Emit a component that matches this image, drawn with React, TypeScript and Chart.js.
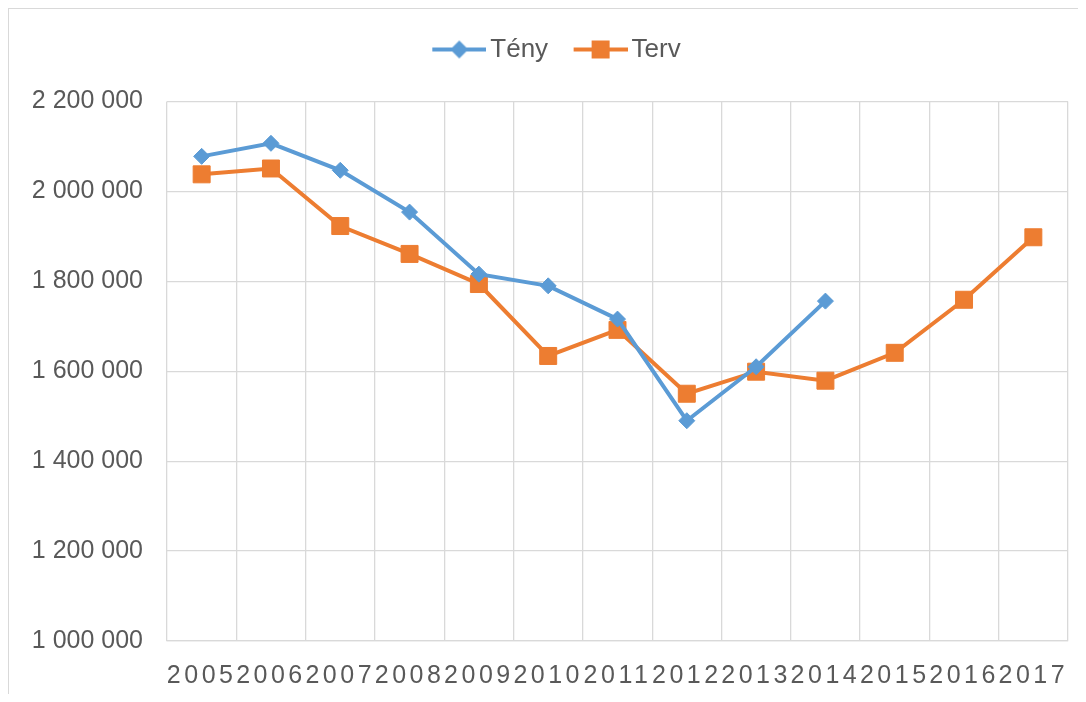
import React, { useEffect, useRef } from "react";
import { Chart, registerables } from "chart.js";

Chart.register(...registerables);

const categories = ["2005", "2006", "2007", "2008", "2009", "2010", "2011", "2012", "2013", "2014", "2015", "2016", "2017"];
const tenyValues: (number | null)[] = [2078000, 2107000, 2047000, 1954000, 1816000, 1790000, 1716000, 1490000, 1610000, 1756000, null, null, null];
const tervValues: number[] = [2038000, 2051000, 1923000, 1861000, 1794000, 1634000, 1692000, 1550000, 1599000, 1579000, 1641000, 1759000, 1898000];
const seriesNames = ["Tény", "Terv"];
const yMin = 1000000;
const yMax = 2200000;
const yStep = 200000;

const BLUE = "#5B9BD5";
const ORANGE = "#ED7D31";
const GRID = "#D9D9D9";
const TEXT = "#595959";
const FONT = "'Liberation Sans', Arial, sans-serif";

function fmt(v: number): string {
  return String(Math.round(v)).replace(/\B(?=(\d{3})+(?!\d))/g, " ");
}

// legend symbol: line with marker, drawn in the right 54px of a 72px image
function legendImage(color: string, kind: "diamond" | "square"): HTMLCanvasElement {
  const c = document.createElement("canvas");
  c.width = 72;
  c.height = 22;
  const g = c.getContext("2d")!;
  const x0 = 18;
  const cx = x0 + 27;
  g.strokeStyle = color;
  g.lineWidth = 4;
  g.beginPath();
  g.moveTo(x0, 11);
  g.lineTo(x0 + 54, 11);
  g.stroke();
  g.fillStyle = color;
  g.beginPath();
  if (kind === "diamond") {
    g.moveTo(cx - 9, 11);
    g.lineTo(cx, 2);
    g.lineTo(cx + 9, 11);
    g.lineTo(cx, 20);
    g.closePath();
  } else {
    g.rect(cx - 9, 2, 18, 18);
  }
  g.fill();
  return c;
}

export default function App() {
  const ref = useRef<HTMLCanvasElement | null>(null);

  useEffect(() => {
    if (!ref.current) return;
    const imgs = [legendImage(BLUE, "diamond"), legendImage(ORANGE, "square")];

    const legendSpacer = {
      id: "legendSpacer",
      beforeLayout(chart: any) {
        const lg = chart.legend;
        if (lg && !lg.__patched) {
          const orig = lg.fit;
          lg.fit = function () {
            orig.call(this);
            this.height += 29;
          };
          lg.__patched = true;
        }
      },
      afterLayout(chart: any) {
        const lg = chart.legend;
        if (lg) {
          lg.left += 14;
          lg.right += 14;
        }
      },
    };

    const xLetterSpacing = {
      id: "xLetterSpacing",
      afterLayout(chart: any) {
        const s = chart.scales.x;
        if (s && !s.__patched) {
          const orig = s.drawLabels;
          s.drawLabels = function (area: any) {
            const ctx = this.ctx;
            ctx.save();
            (ctx as any).letterSpacing = "3.5px";
            orig.call(this, area);
            ctx.restore();
          };
          s.__patched = true;
        }
      },
    };

    const chart = new Chart(ref.current, {
      type: "line",
      data: {
        labels: categories,
        datasets: [
          {
            label: seriesNames[0],
            data: tenyValues,
            borderColor: BLUE,
            backgroundColor: BLUE,
            borderWidth: 4,
            pointStyle: "rectRot",
            pointRadius: 8,
            pointBorderWidth: 1,
            pointBackgroundColor: BLUE,
            pointBorderColor: BLUE,
            spanGaps: false,
            tension: 0,
          },
          {
            label: seriesNames[1],
            data: tervValues,
            borderColor: ORANGE,
            backgroundColor: ORANGE,
            borderWidth: 4,
            pointStyle: "rect",
            pointRadius: 12,
            pointBorderWidth: 1,
            pointBackgroundColor: ORANGE,
            pointBorderColor: ORANGE,
            tension: 0,
          },
        ],
      },
      options: {
        animation: false,
        responsive: true,
        maintainAspectRatio: false,
        layout: { padding: { top: 12, right: 18, bottom: 0, left: 0 } },
        plugins: {
          legend: {
            display: true,
            position: "top",
            labels: {
              usePointStyle: true,
              pointStyleWidth: 54,
              padding: 16.5,
              color: TEXT,
              font: { family: FONT, size: 26 },
              generateLabels: (chart: any) =>
                chart.data.datasets.map((ds: any, i: number) => ({
                  text: ds.label,
                  fillStyle: ds.borderColor,
                  strokeStyle: ds.borderColor,
                  lineWidth: 0,
                  pointStyle: imgs[i],
                  hidden: false,
                  datasetIndex: i,
                  fontColor: TEXT,
                })),
            },
          },
          tooltip: { enabled: false },
        },
        scales: {
          x: {
            type: "category",
            offset: true,
            grid: { display: true, offset: true, color: GRID, lineWidth: 1.3, drawTicks: false },
            border: { display: true, color: GRID, width: 1.3 },
            ticks: {
              autoSkip: false,
              maxRotation: 0,
              minRotation: 0,
              padding: 20,
              color: TEXT,
              font: { family: FONT, size: 25 },
            },
            afterFit: (s: any) => {
              s.height = 53;
            },
          },
          y: {
            min: yMin,
            max: yMax,
            grid: { color: GRID, lineWidth: 1.3, drawTicks: false },
            border: { display: false },
            ticks: {
              stepSize: yStep,
              padding: 24,
              color: TEXT,
              font: { family: FONT, size: 25 },
              callback: (v: any) => fmt(Number(v)),
            },
            afterFit: (s: any) => {
              s.width = 159;
            },
          },
        },
      },
      plugins: [legendSpacer, xLetterSpacing],
    } as any);
    return () => chart.destroy();
  }, []);

  return (
    <div style={{ position: "relative", width: 1078, height: 686 }}>
      <div
        style={{
          position: "absolute",
          left: -1,
          top: -1,
          width: 1079,
          height: 687,
          borderTop: "2px solid #D9D9D9",
          borderLeft: "2px solid #D9D9D9",
          boxSizing: "border-box",
          pointerEvents: "none",
        }}
      />
      <canvas ref={ref} style={{ position: "absolute", left: 0, top: 0 }} />
    </div>
  );
}
